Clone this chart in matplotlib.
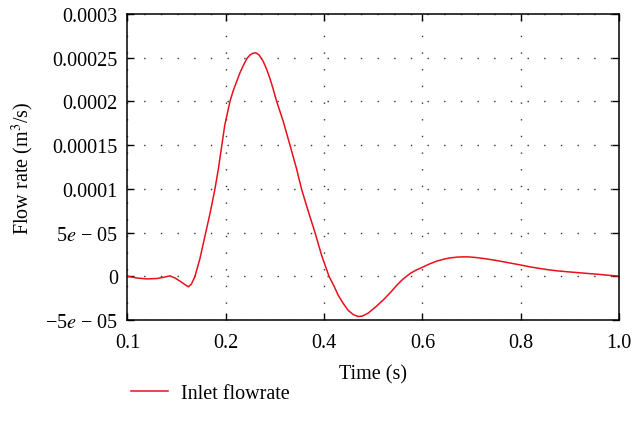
import numpy as np
import matplotlib.pyplot as plt

plt.rcParams['font.family'] = ['Liberation Serif', 'DejaVu Serif']
plt.rcParams['mathtext.fontset'] = 'stix'

# time (s) and inlet flow rate (1e-5 m^3/s)
t = [0.0, 0.02, 0.04, 0.06, 0.075, 0.086, 0.097, 0.107, 0.117, 0.124,
     0.13, 0.137, 0.1475, 0.158, 0.168, 0.178, 0.185, 0.192, 0.198, 0.2085,
     0.215, 0.222, 0.229, 0.236, 0.243, 0.249, 0.255, 0.261, 0.268, 0.276,
     0.283, 0.29, 0.2965, 0.3035, 0.31, 0.317, 0.3306, 0.344, 0.354, 0.368,
     0.3815, 0.395, 0.41, 0.42, 0.429, 0.439, 0.449, 0.46, 0.4696, 0.478,
     0.49, 0.505, 0.52, 0.535, 0.548, 0.56, 0.575, 0.587, 0.599, 0.614,
     0.629, 0.643, 0.656, 0.672, 0.69, 0.707, 0.724, 0.745, 0.765, 0.784,
     0.802, 0.82, 0.839, 0.856, 0.873, 0.894, 0.914, 0.935, 0.955, 0.978,
     1.0]
q = [0.0, -0.2, -0.3, -0.25, -0.1, 0.05, -0.2, -0.56, -0.95, -1.2,
     -0.9, -0.06, 2.04, 4.7, 7.2, 10.0, 12.3, 15.0, 17.3, 20.0,
     21.2, 22.25, 23.3, 24.15, 24.9, 25.3, 25.5, 25.57, 25.3, 24.6,
     23.7, 22.6, 21.4, 20.0, 18.9, 17.7, 15.0, 12.3, 10.0, 7.4,
     5.0, 2.4, 0.0, -1.1, -2.2, -3.1, -3.9, -4.4, -4.6, -4.55,
     -4.2, -3.5, -2.73, -1.85, -1.02, -0.35, 0.32, 0.7, 1.0, 1.4,
     1.73, 1.95, 2.1, 2.2, 2.23, 2.16, 2.04, 1.86, 1.66, 1.46,
     1.27, 1.07, 0.89, 0.75, 0.63, 0.52, 0.43, 0.33, 0.24, 0.12,
     0.01]
q = np.array(q) * 1e-5

xticks = [0.0, 0.2, 0.4, 0.6, 0.8, 1.0]
xlabels = ['0.1', '0.2', '0.4', '0.6', '0.8', '1.0']
yticks = [-5e-5, 0, 5e-5, 1e-4, 1.5e-4, 2e-4, 2.5e-4, 3e-4]
ylabels = ['\u22125$e$ \u2212 05', '0', '5$e$ \u2212 05', '0.0001', '0.00015',
           '0.0002', '0.00025', '0.0003']

fs = 14.5

fig = plt.figure(figsize=(6.32, 4.31), dpi=100)
ax = fig.add_axes([0.2017, 0.2552, 0.7777, 0.71])

ax.plot(t, q, color='#e8101c', linewidth=1.1, label='Inlet flowrate')

ax.set_xlim(0, 1)
ax.set_ylim(-5e-5, 3e-4)
ax.set_xticks(xticks)
ax.set_xticklabels(xlabels)
ax.set_yticks(yticks)
ax.set_yticklabels(ylabels)
ax.tick_params(direction='in', length=5, width=1, labelsize=fs,
               top=True, right=True, pad=7)
ax.tick_params(axis='x', pad=9)

ax.grid(True, color='#333333', linestyle=(0, (1, 11)), linewidth=1)

for s in ax.spines.values():
    s.set_linewidth(1.1)

ax.set_xlabel('Time (s)', fontsize=fs, labelpad=9)
ax.set_ylabel('Flow rate (m$^3$/s)', fontsize=fs, labelpad=6)

ax.legend(loc='center left', bbox_to_anchor=(-0.03, -0.24), frameon=False,
          fontsize=fs, handlelength=1.85, handletextpad=0.65)

fig.savefig('out.png', dpi=100)
